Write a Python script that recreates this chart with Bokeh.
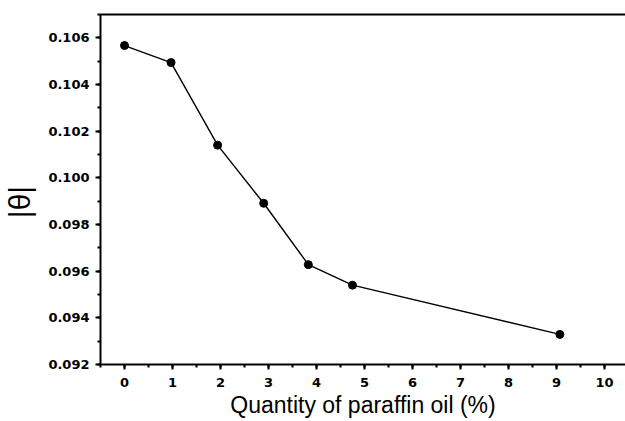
from bokeh.plotting import figure
from bokeh.models import LinearAxis, SingleIntervalTicker, FixedTicker, PrintfTickFormatter, Range1d
from bokeh.embed import file_html
from bokeh.resources import INLINE

# Data
oil_pct = [0.0, 0.97, 1.94, 2.90, 3.83, 4.75, 9.07]
theta_abs = [0.10567, 0.10494, 0.10140, 0.09891, 0.09628, 0.09540, 0.09329]

x_title = "Quantity of paraffin oil (%)"
y_title = "|θ|"

p = figure(width=625, height=421, output_backend="svg", toolbar_location=None,
           x_range=Range1d(-0.5, 10.4375), y_range=Range1d(0.092, 0.107),
           x_axis_location=None, y_axis_location=None,
           min_border_left=100, min_border_right=0, min_border_top=14, min_border_bottom=57)
p.outline_line_color = None
p.xgrid.visible = False
p.ygrid.visible = False
p.background_fill_color = "white"
p.border_fill_color = "white"

tick_font = "DejaVu Sans"

xaxis = LinearAxis(ticker=SingleIntervalTicker(interval=1, num_minor_ticks=2),
                   axis_label=x_title)
# trailing no-break spaces nudge the rotated title below the frame centre, as in the reference
yaxis = LinearAxis(ticker=SingleIntervalTicker(interval=0.002, num_minor_ticks=2),
                   formatter=PrintfTickFormatter(format="%.3f"),
                   axis_label=y_title + "\u00a0\u00a0\u00a0")
for ax in (xaxis, yaxis):
    ax.axis_line_width = 2
    ax.axis_line_color = "black"
    ax.major_tick_line_width = 2
    ax.minor_tick_line_width = 2
    ax.major_tick_line_color = "black"
    ax.minor_tick_line_color = "black"
    ax.major_tick_in = 0
    ax.major_tick_out = 5
    ax.minor_tick_in = 0
    ax.minor_tick_out = 3
    ax.major_label_text_font = tick_font
    ax.major_label_text_font_style = "bold"
    ax.major_label_text_font_size = "13px"
    ax.major_label_text_color = "black"
    ax.axis_label_text_font = "Liberation Sans"
    ax.axis_label_text_font_style = "normal"
    ax.axis_label_text_color = "black"

xaxis.major_label_standoff = 8
xaxis.axis_label_standoff = 2
xaxis.axis_label_text_font_size = "23px"
yaxis.major_label_standoff = 6
yaxis.axis_label_standoff = 9
yaxis.axis_label_text_font_size = "30px"

top_axis = LinearAxis(ticker=FixedTicker(ticks=[]), major_label_text_font_size="0px",
                      axis_line_width=2, axis_line_color="black",
                      major_tick_out=0, minor_tick_out=0, major_tick_in=0, minor_tick_in=0,
                      major_label_standoff=0)

p.add_layout(xaxis, "below")
p.add_layout(yaxis, "left")
p.add_layout(top_axis, "above")

p.line(oil_pct, theta_abs, line_color="black", line_width=1.4)
p.scatter(oil_pct, theta_abs, size=8, marker="circle", fill_color="black", line_color="black")

open("out.html", "w").write(file_html(p, INLINE))
